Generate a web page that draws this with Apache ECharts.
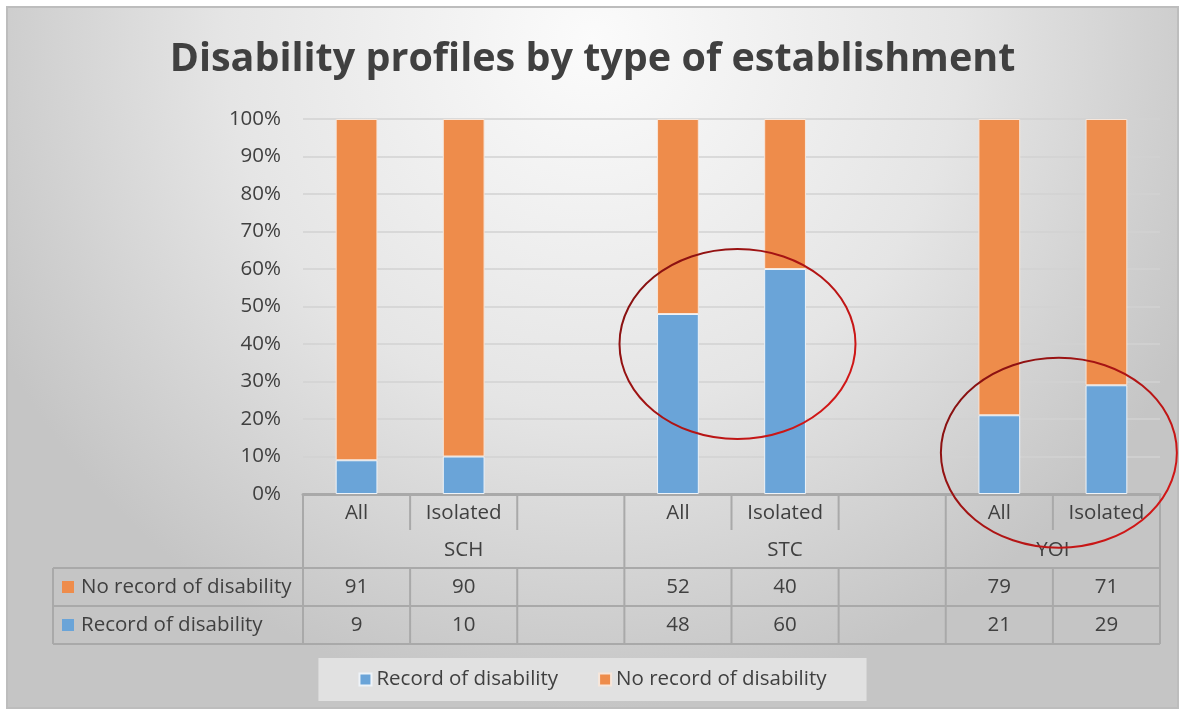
<!DOCTYPE html>
<html>
<head>
<meta charset="utf-8">
<title>Disability profiles by type of establishment</title>
<script src="https://cdn.jsdelivr.net/npm/echarts@6/dist/echarts.min.js"></script>
<style>
  html, body { margin: 0; padding: 0; background: #fff; }
  #main { width: 1185px; height: 715px; }
</style>
</head>
<body>
<div id="main"></div>
<script>
// chart data
const categories = ['All', 'Isolated', '', 'All', 'Isolated', '', 'All', 'Isolated'];
const categoryGroup = ['SCH', 'SCH', 'SCH', 'STC', 'STC', 'STC', 'YOI', 'YOI'];
const groups = ['SCH', 'STC', 'YOI'];
const recordData = [9, 10, null, 48, 60, null, 21, 29];
const noRecordData = [91, 90, null, 52, 40, null, 79, 71];
const yTicks = [0, 10, 20, 30, 40, 50, 60, 70, 80, 90, 100];

const BLUE = '#6aa4d8';
const ORANGE = '#ee8c4b';
const LINE = '#a9a9a9';
const TEXT = '#404040';
const FONT = 'Open Sans';
const FS = 20.5;

// unique keys so repeated names stay separate categories
const keys = categories.map((c, i) => categoryGroup[i] + '|' + c + '|' + i);

const chart = echarts.init(document.getElementById('main'));

const option = {
  backgroundColor: '#ffffff',
  animation: false,
  title: {
    text: 'Disability profiles by type of establishment',
    left: 'center',
    top: 35,
    textStyle: { fontFamily: FONT, fontSize: 39.5, fontWeight: 'bold', color: '#404040' }
  },
  legend: {
    data: ['Record of disability', 'No record of disability'],
    top: 658,
    left: 'center',
    backgroundColor: '#e1e1e1',
    padding: [11, 40, 11, 40],
    itemGap: 40,
    itemWidth: 12,
    itemHeight: 12,
    icon: 'rect',
    textStyle: { fontFamily: FONT, fontSize: FS, color: TEXT }
  },
  grid: { left: 303, right: 25, top: 119, bottom: 221 },
  xAxis: {
    type: 'category',
    data: keys,
    axisLine: { lineStyle: { color: LINE, width: 3 } },
    axisTick: { show: false },
    axisLabel: {
      interval: 0,
      margin: 9,
      fontFamily: FONT,
      fontSize: FS,
      color: TEXT,
      formatter: v => v.split('|')[1]
    }
  },
  yAxis: {
    type: 'value',
    min: yTicks[0],
    max: yTicks[yTicks.length - 1],
    interval: 10,
    axisLine: { show: false },
    axisTick: { show: false },
    splitLine: { lineStyle: { color: '#d2d2d2', width: 1.5 } },
    axisLabel: { formatter: '{value}%', fontFamily: FONT, fontSize: FS, color: TEXT, margin: 22 }
  },
  series: [
    {
      name: 'Record of disability',
      type: 'bar',
      stack: 'total',
      barWidth: '39%',
      data: recordData,
      itemStyle: { color: BLUE, borderColor: '#eef3f8', borderWidth: 1 }
    },
    {
      name: 'No record of disability',
      type: 'bar',
      stack: 'total',
      barWidth: '39%',
      data: noRecordData,
      itemStyle: { color: ORANGE, borderColor: '#f7e6da', borderWidth: 1 }
    }
  ]
};
chart.setOption(option);

// data table, frame and annotations built from axis positions
function buildGraphics() {
  const xAt = i => chart.convertToPixel({ xAxisIndex: 0 }, keys[i]);
  const yAt = v => chart.convertToPixel({ yAxisIndex: 0 }, v);
  const bw = xAt(1) - xAt(0);
  const edge = i => xAt(0) - bw / 2 + i * bw;
  const n = categories.length;
  const y0 = yAt(0);
  const rowCat = y0 + 38, rowGrp = rowCat + 36, rowA = rowGrp + 38, rowB = rowA + 38;
  const tableLeft = 53;
  const els = [];

  // chart area background
  els.push({
    type: 'rect', z: -10, silent: true,
    shape: { x: 7, y: 7, width: 1171, height: 701 },
    style: {
      fill: new echarts.graphic.RadialGradient(0.5, 0.05, 0.95, [
        { offset: 0, color: '#fbfbfb' },
        { offset: 0.55, color: '#e5e5e5' },
        { offset: 1, color: '#c5c5c5' }
      ]),
      stroke: '#bdbdbd', lineWidth: 2
    }
  });

  const line = (x1, y1, x2, y2) => els.push({
    type: 'line', silent: true, z: 5,
    shape: { x1, y1, x2, y2 },
    style: { stroke: LINE, lineWidth: 2 }
  });

  // group boundaries span the whole table
  const groupEdges = [0];
  for (let i = 1; i < n; i++) if (categoryGroup[i] !== categoryGroup[i - 1]) groupEdges.push(i);
  groupEdges.push(n);
  for (let i = 0; i <= n; i++) {
    const x = edge(i);
    if (groupEdges.includes(i)) {
      line(x, y0, x, rowB);
    } else {
      line(x, y0, x, rowCat - 2);
      line(x, rowGrp, x, rowB);
    }
  }
  [rowGrp, rowA, rowB].forEach(y => line(tableLeft, y, edge(n), y));
  line(tableLeft, rowGrp, tableLeft, rowB);

  const text = (str, x, y, align) => els.push({
    type: 'text', silent: true, z: 6, x, y,
    style: { text: str, fontFamily: FONT, fontSize: FS, fill: TEXT, align: align || 'center', verticalAlign: 'middle' }
  });

  // group names
  groups.forEach(g => {
    const first = categoryGroup.indexOf(g);
    const last = categoryGroup.lastIndexOf(g);
    text(g, (edge(first) + edge(last + 1)) / 2, (rowCat + rowGrp) / 2);
  });

  // data rows
  const rows = [
    { name: 'No record of disability', color: ORANGE, values: noRecordData, top: rowGrp },
    { name: 'Record of disability', color: BLUE, values: recordData, top: rowA }
  ];
  rows.forEach(r => {
    const cy = r.top + 19;
    els.push({
      type: 'rect', silent: true, z: 6,
      shape: { x: tableLeft + 9, y: cy - 6, width: 12, height: 12 },
      style: { fill: r.color }
    });
    text(r.name, tableLeft + 28, cy, 'left');
    r.values.forEach((v, i) => { if (v != null) text(String(v), xAt(i), cy); });
  });

  // red ellipses around STC and YOI bars
  const ellipse = (cx, cy) => els.push({
    type: 'ellipse', silent: true, z: 20,
    shape: { cx, cy, rx: 118, ry: 95 },
    style: {
      fill: 'none', lineWidth: 2,
      stroke: new echarts.graphic.LinearGradient(0, 0, 1, 1, [
        { offset: 0, color: '#7a1010' },
        { offset: 1, color: '#e01818' }
      ])
    }
  });
  ellipse((xAt(3) + xAt(4)) / 2 + 6, yAt(40));
  ellipse((xAt(6) + xAt(7)) / 2 + 6, yAt(11));

  chart.setOption({ graphic: { elements: els } });
}
buildGraphics();
</script>
</body>
</html>
